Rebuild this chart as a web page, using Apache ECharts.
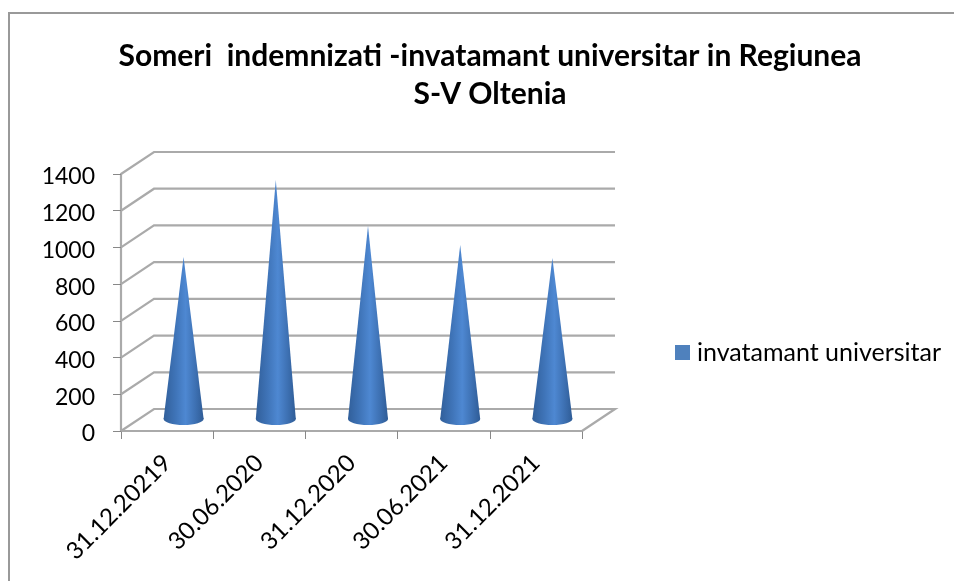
<!DOCTYPE html>
<html>
<head>
<meta charset="utf-8">
<style>
  html, body { margin: 0; background: #fff; overflow: hidden; }
  #chart { width: 954px; height: 581px; }
</style>
<script src="https://cdn.jsdelivr.net/npm/echarts@6/dist/echarts.min.js"></script>
</head>
<body>
<div id="chart"></div>
<script>
const categories = ["31.12.20219", "30.06.2020", "31.12.2020", "30.06.2021", "31.12.2021"];
const values = [888, 1307, 1057, 953, 882];
const yTicks = [0, 200, 400, 600, 800, 1000, 1200, 1400];
const seriesName = "invatamant universitar";

// depth of the fake 3d box, in pixels
const depthX = 33;
const depthY = -22;
const coneHalfWidth = 20;
const coneBaseRy = 6;
const fontName = "Lato";

const chart = echarts.init(document.getElementById("chart"));

function renderWall(params, api) {
  const p = api.coord([0, api.value(0)]);
  const band = api.size([1, 0])[0];
  const left = p[0] - band / 2;
  const right = left + band * categories.length;
  const pts = [[left, p[1]], [left + depthX, p[1] + depthY], [right + depthX, p[1] + depthY]];
  if (api.value(0) === 0) {
    pts.push([right, p[1]]);
  }
  return {
    type: "polyline",
    shape: { points: pts },
    style: { fill: "none", stroke: "#aaaaaa", lineWidth: 2.2 }
  };
}

function renderCone(params, api) {
  const top = api.coord([api.value(0), api.value(1)]);
  const base = api.coord([api.value(0), 0]);
  const cx = top[0] + depthX / 2;
  const apexY = top[1] + depthY / 2;
  const baseY = base[1] + depthY / 2 - 1;
  const fill = new echarts.graphic.LinearGradient(0, 0, 1, 0, [
    { offset: 0, color: "#315f9a" },
    { offset: 0.3, color: "#3f74b8" },
    { offset: 0.55, color: "#4e88d2" },
    { offset: 0.8, color: "#3d70b2" },
    { offset: 1, color: "#2f5c96" }
  ]);
  return {
    type: "group",
    children: [
      {
        type: "ellipse",
        shape: { cx: cx, cy: baseY, rx: coneHalfWidth, ry: coneBaseRy },
        style: { fill: fill }
      },
      {
        type: "polygon",
        shape: { points: [[cx, apexY], [cx + coneHalfWidth, baseY], [cx - coneHalfWidth, baseY]] },
        style: { fill: fill }
      }
    ]
  };
}

chart.setOption({
  animation: false,
  backgroundColor: "#fff",
  textStyle: { fontFamily: fontName },
  title: {
    text: "Someri  indemnizati -invatamant universitar in Regiunea\nS-V Oltenia",
    left: 485,
    top: 32,
    textAlign: "center",
    textStyle: { fontFamily: fontName, fontSize: 30, fontWeight: "bold", color: "#000", lineHeight: 38 }
  },
  legend: {
    left: 670,
    top: 335,
    itemWidth: 15,
    itemHeight: 15,
    itemGap: 0,
    icon: "rect",
    data: [{ name: seriesName, itemStyle: { color: "#4f81bd" } }],
    textStyle: { fontFamily: fontName, fontSize: 25, color: "#000", padding: [0, 0, 0, 2] }
  },
  grid: { left: 121, right: 372, top: 174, bottom: 150 },
  xAxis: {
    type: "category",
    data: categories,
    axisLine: { lineStyle: { color: "#aaaaaa", width: 2.2 } },
    axisTick: { show: true, alignWithLabel: false, length: 8, lineStyle: { color: "#888" } },
    axisLabel: { rotate: 45, fontFamily: fontName, fontSize: 24, color: "#000", margin: 28, interval: 0 }
  },
  yAxis: {
    type: "value",
    min: 0,
    max: 1400,
    interval: 200,
    axisLine: { show: true, lineStyle: { color: "#aaaaaa", width: 2.2 } },
    axisTick: { show: true, length: 8, lineStyle: { color: "#888" } },
    axisLabel: {
      margin: 26,
      formatter: v => "{n|" + v + "}",
      rich: { n: { fontFamily: fontName, fontSize: 23, color: "#000", padding: [6, 0, 0, 0] } }
    },
    splitLine: { show: false }
  },
  graphic: [
    {
      type: "rect",
      silent: true,
      z: -1,
      shape: { x: 9, y: 13, width: 1000, height: 620 },
      style: { fill: "none", stroke: "#999999", lineWidth: 2 }
    }
  ],
  series: [
    {
      name: "wall",
      type: "custom",
      renderItem: renderWall,
      data: yTicks,
      encode: { y: 0 },
      clip: false,
      silent: true,
      z: 1
    },
    {
      name: seriesName,
      type: "custom",
      renderItem: renderCone,
      data: values.map((v, i) => [i, v]),
      encode: { x: 0, y: 1 },
      clip: false,
      z: 2
    }
  ]
});
</script>
</body>
</html>
